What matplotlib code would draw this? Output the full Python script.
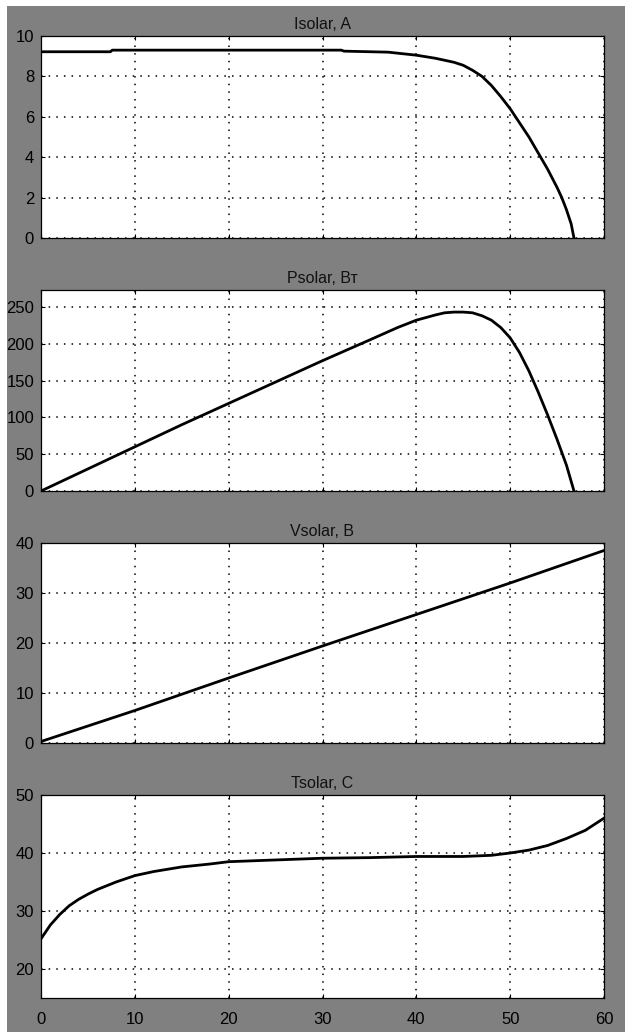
import numpy as np
import matplotlib.pyplot as plt
from matplotlib.patches import Rectangle

# Datos (tiempo, s)
t_i = [0, 7.4, 7.6, 20, 32, 32.3, 37, 40, 42, 44, 45, 46, 47, 48, 49, 50, 51, 52, 53,
       54, 55, 55.5, 56, 56.5, 56.8]
i_solar = [9.22, 9.22, 9.30, 9.30, 9.30, 9.25, 9.2, 9.05, 8.9, 8.7, 8.55, 8.3, 8.0, 7.55,
           7.0, 6.4, 5.7, 5.0, 4.2, 3.4, 2.5, 2.0, 1.4, 0.7, 0.0]

t_p = [0, 5, 10, 15, 20, 25, 30, 35, 38, 40, 42, 43, 44, 45, 46, 47, 48, 49, 50, 51,
       52, 53, 54, 55, 56, 56.8]
p_solar = [0, 30, 60, 90, 119, 148, 177, 205, 222, 232, 239, 242, 243, 243, 242, 238,
           232, 222, 208, 188, 163, 134, 103, 70, 35, 0]

t_v = [0, 10, 20, 30, 40, 50, 60]
v_solar = [0.3, 6.5, 13.0, 19.4, 25.7, 32.0, 38.5]

t_t = [0, 1, 2, 3, 4, 5, 6, 8, 10, 12, 15, 18, 20, 25, 30, 35, 40, 45, 48, 50, 52, 54,
       56, 58, 60]
t_solar = [25.2, 27.6, 29.4, 30.9, 32.0, 32.9, 33.7, 35.0, 36.1, 36.8, 37.6, 38.1, 38.5,
           38.8, 39.1, 39.2, 39.4, 39.4, 39.6, 40.0, 40.5, 41.3, 42.5, 43.9, 46.0]

titulos = ['Isolar, A', 'Psolar, Вт', 'Vsolar, B', 'Tsolar, C']
limites_y = [(0, 10), (0, 273), (0, 40), (15, 50)]
ticks_y = [np.arange(0, 11, 2), np.arange(0, 251, 50), np.arange(0, 41, 10), np.arange(20, 51, 10)]
series = [(t_i, i_solar), (t_p, p_solar), (t_v, v_solar), (t_t, t_solar)]

plt.rcParams['font.family'] = ['Liberation Sans', 'DejaVu Sans']

W, H = 625, 1032
fig = plt.figure(figsize=(W / 100, H / 100), dpi=100, facecolor='white')
fig.patches.append(Rectangle((7 / W, 0), 1, 1 - 6 / H, transform=fig.transFigure,
                             facecolor='#808080', edgecolor='none', zorder=-10))

# bordes de cada panel en píxeles (arriba, abajo)
paneles = [(36, 238), (290, 491), (543, 743), (795, 998)]
izq, der = 41, 604

for k, (arriba, abajo) in enumerate(paneles):
    ax = fig.add_axes([izq / W, 1 - abajo / H, (der - izq) / W, (abajo - arriba) / H])
    ax.set_facecolor('white')
    x, y = series[k]
    ax.plot(x, y, color='black', lw=2.0)
    ax.set_xlim(0, 60)
    ax.set_ylim(*limites_y[k])
    ax.set_xticks(np.arange(0, 61, 10))
    ax.set_yticks(ticks_y[k])
    ax.grid(True, color='black', linestyle=(0, (1, 4)), lw=1.1)
    ax.tick_params(direction='in', length=3, width=0.8, top=True, right=True,
                   labelsize=12, colors='black', pad=5)
    ax.tick_params(axis='x', pad=10)
    if k < 3:
        ax.tick_params(labelbottom=False)
    for s in ax.spines.values():
        s.set_linewidth(0.9)
        s.set_color('black')
    ax.set_title(titulos[k], fontsize=11.5, color='#111111', pad=5)

fig.savefig('out.png', dpi=100, facecolor=fig.get_facecolor())
